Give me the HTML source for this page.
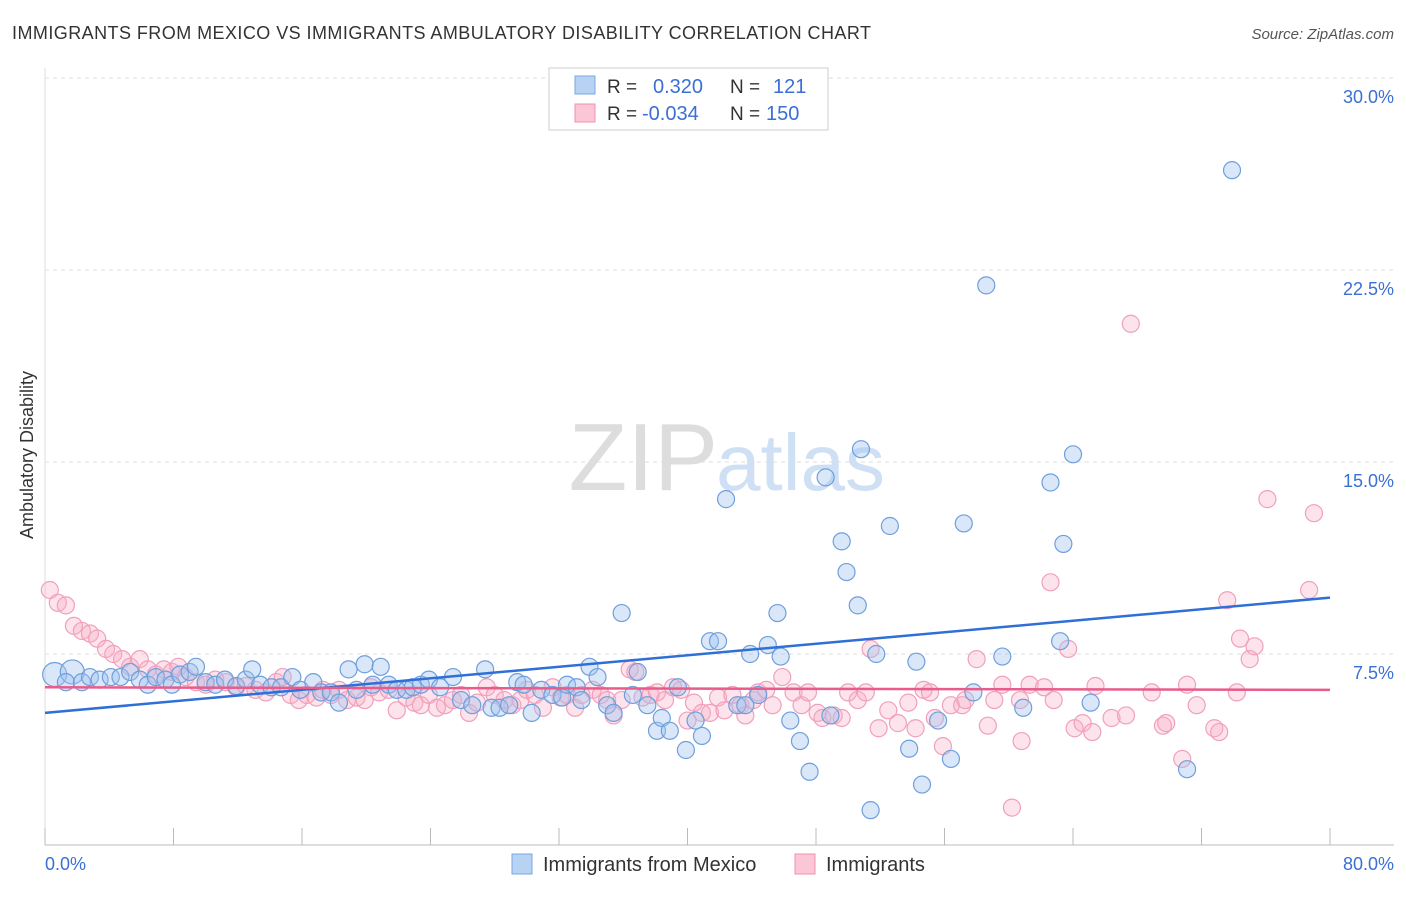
<!DOCTYPE html>
<html><head><meta charset="utf-8"><style>
body{margin:0;background:#fff;font-family:"Liberation Sans",sans-serif;}
svg text{font-family:"Liberation Sans",sans-serif;}
</style></head><body>
<svg width="1406" height="892" viewBox="0 0 1406 892">
<text x="12" y="39" font-size="18" fill="#333" textLength="859" lengthAdjust="spacing">IMMIGRANTS FROM MEXICO VS IMMIGRANTS AMBULATORY DISABILITY CORRELATION CHART</text>
<text x="1394" y="39" font-size="15" fill="#555" font-style="italic" text-anchor="end">Source: ZipAtlas.com</text>
<text x="33" y="455" font-size="18" fill="#333" transform="rotate(-90 33 455)" text-anchor="middle">Ambulatory Disability</text>
<g id="grid"></g>
<text x="718" y="490" font-size="96" fill="#ddd" text-anchor="end" font-family="Liberation Serif">ZIP</text>
<text x="716" y="490" font-size="80" fill="#cfe0f5">atlas</text>
<g id="pts"></g>
<g id="trend"></g>
<g>
<rect x="549" y="68" width="279" height="62" fill="#fff" stroke="#ccc"/>
<rect x="575" y="76" width="20" height="18" fill="#b8d2f4" stroke="#7aa8e0"/>
<rect x="575" y="104" width="20" height="18" fill="#fbc6d6" stroke="#f090b0"/>
<text x="607" y="93" font-size="19" fill="#333">R =</text>
<text x="653" y="93" font-size="20" fill="#3b6fd4">0.320</text>
<text x="730" y="93" font-size="19" fill="#333">N =</text>
<text x="773" y="93" font-size="20" fill="#3b6fd4">121</text>
<text x="607" y="120" font-size="19" fill="#333">R =</text>
<text x="642" y="120" font-size="20" fill="#3b6fd4">-0.034</text>
<text x="730" y="120" font-size="19" fill="#333">N =</text>
<text x="766" y="120" font-size="20" fill="#3b6fd4">150</text>
</g>
<g>
<rect x="512" y="854" width="20" height="20" fill="#b8d2f4" stroke="#7aa8e0"/>
<text x="543" y="871" font-size="20" fill="#333">Immigrants from Mexico</text>
<rect x="795" y="854" width="20" height="20" fill="#fbc6d6" stroke="#f090b0"/>
<text x="826" y="871" font-size="20" fill="#333">Immigrants</text>
</g>
</svg>
<script>
const xTickLabels=["0.0%","80.0%"];
const yTicks=[7.5,15,22.5,30];
const yTickLabels=["7.5%","15.0%","22.5%","30.0%"];
const blueX=[0.6,1.7,1.3,2.3,2.8,3.4,4.1,4.7,5.3,5.9,6.4,6.9,7.5,7.9,8.4,9.0,9.4,10.0,10.6,11.2,11.9,12.5,12.9,13.4,14.1,14.7,15.4,15.9,16.7,17.2,17.8,18.3,18.9,19.4,19.9,20.4,20.9,21.4,21.9,22.5,22.9,23.4,23.9,24.6,25.4,25.9,26.6,27.4,27.8,28.3,28.9,29.4,29.8,30.3,30.9,31.6,32.2,32.5,33.1,33.4,33.9,34.4,35.0,35.4,35.9,36.6,36.9,37.5,38.1,38.4,38.9,39.4,39.9,40.5,40.9,41.4,41.9,42.4,43.1,43.6,43.9,44.4,45.0,45.6,45.8,46.4,47.0,47.6,48.6,48.9,49.6,49.9,50.6,50.8,51.4,51.75,52.6,53.8,54.25,54.6,55.6,56.4,57.2,57.8,58.6,59.6,60.9,62.6,63.2,63.4,64.0,65.1,71.1,73.9];
const blueY=[6.7,6.8,6.4,6.4,6.6,6.5,6.6,6.6,6.8,6.5,6.3,6.6,6.5,6.3,6.7,6.8,7.0,6.4,6.3,6.5,6.25,6.5,6.9,6.3,6.2,6.2,6.6,6.1,6.4,6.0,6.0,5.6,6.9,6.1,7.1,6.3,7.0,6.3,6.1,6.1,6.2,6.3,6.5,6.2,6.6,5.7,5.5,6.9,5.4,5.4,5.5,6.4,6.3,5.2,6.1,5.9,5.8,6.3,6.2,5.7,7.0,6.6,5.5,5.2,9.1,5.9,6.8,5.5,4.5,5.0,4.5,6.2,3.75,4.9,4.3,8.0,8.0,13.55,5.5,5.5,7.5,5.9,7.85,9.1,7.4,4.9,4.1,2.9,14.4,5.1,11.9,10.7,9.4,15.5,1.4,7.5,12.5,3.8,7.2,2.4,4.9,3.4,12.6,6.0,21.9,7.4,5.4,14.2,8.0,11.8,15.3,5.6,3.0,26.4];
const pinkX=[0.3,0.8,1.3,1.8,2.3,2.8,3.25,3.8,4.25,4.8,5.3,5.9,6.4,6.9,7.4,7.9,8.3,8.75,9.4,10.0,10.6,11.25,11.9,12.5,13.1,13.75,14.4,14.8,15.3,15.8,16.3,16.9,17.3,17.8,18.3,18.8,19.4,19.9,20.3,20.8,21.4,21.9,22.5,23.0,23.4,23.9,24.4,24.9,25.4,25.9,26.4,26.9,27.5,28.0,28.6,29.1,29.6,30.0,30.5,31.0,31.6,32.1,32.5,33.0,33.4,34.1,34.6,35.0,35.4,35.9,36.4,36.75,37.2,37.7,38.1,38.6,39.1,39.6,40.0,40.4,40.9,41.4,41.9,42.3,42.8,43.3,43.6,44.1,44.4,44.9,45.3,45.9,46.6,47.1,47.5,48.1,48.4,49.1,49.6,50.0,50.6,51.1,51.4,51.9,52.5,53.1,53.75,54.2,54.7,55.1,55.4,55.9,56.4,57.1,57.3,58.0,58.7,59.1,59.6,60.2,60.7,60.8,61.3,62.2,62.6,62.8,63.7,64.1,64.6,65.2,65.4,66.4,67.3,67.6,68.9,69.6,69.8,70.8,71.1,71.7,72.8,73.1,73.6,74.2,74.4,75.0,75.3,76.1,78.7,79.0];
const pinkY=[10.0,9.5,9.4,8.6,8.4,8.3,8.1,7.7,7.5,7.3,7.0,7.3,6.9,6.7,6.9,6.8,7.0,6.6,6.4,6.3,6.5,6.4,6.2,6.25,6.1,6.0,6.4,6.6,5.9,5.7,5.9,5.8,6.1,5.9,6.1,5.7,5.8,5.7,6.2,6.0,6.1,5.3,5.8,5.6,5.5,5.9,5.4,5.5,5.7,5.9,5.2,5.6,6.2,5.9,5.7,5.5,5.7,6.1,5.9,5.4,6.2,5.8,5.9,5.4,5.9,6.1,5.9,5.7,5.1,5.7,6.9,6.8,5.8,5.9,6.0,5.7,6.2,6.1,4.9,5.6,5.2,5.2,5.8,5.3,5.9,5.5,5.1,5.7,6.0,6.1,5.5,6.6,6.0,5.5,6.0,5.2,5.0,5.1,5.0,6.0,5.7,6.0,7.7,4.6,5.3,4.8,5.6,4.6,6.1,6.0,5.0,3.9,5.5,5.5,5.7,7.3,4.7,5.7,6.3,1.5,5.7,4.1,6.3,6.2,10.3,5.7,7.7,4.6,4.8,4.45,6.25,5.0,5.1,20.4,6.0,4.7,4.8,3.4,6.3,5.5,4.6,4.45,9.6,6.0,8.1,7.3,7.8,13.55,10.0,13.0];
const blueTrend=[5.2,9.7];
const pinkTrend=[6.2,6.1];
const NS="http://www.w3.org/2000/svg";
const X0=45,X1=1330,Y0=846;
function sx(v){return X0+v*(X1-X0)/80;}
function sy(v){return Y0-v*25.6;}
function mk(tag,attrs,parent){const e=document.createElementNS(NS,tag);for(const k in attrs)e.setAttribute(k,attrs[k]);parent.appendChild(e);return e;}
const grid=document.getElementById('grid');
yTicks.forEach((t,i)=>{
  const l=mk('line',{x1:45,x2:1394,y1:sy(t),y2:sy(t),stroke:'#ddd','stroke-dasharray':'4,4'},grid);
  
  
  const tx=mk('text',{x:1394,y:sy(t)+25,'font-size':18,fill:'#3b6fd4','text-anchor':'end'},grid);
  tx.textContent=yTickLabels[i];
  
  
});
const ax=mk('line',{x1:45,x2:1394,y1:845,y2:845,stroke:'#bbb'},grid);


const ay=mk('line',{x1:45,x2:45,y1:68,y2:845,stroke:'#ddd'},grid);


for(let i=0;i<=10;i++){
  const t=mk('line',{x1:sx(i*8),x2:sx(i*8),y1:828,y2:845,stroke:'#bbb'},grid);
  
  
}
[[0,'start',45],[80,'end',1394]].forEach((d,i)=>{
  const tx=mk('text',{x:d[2],y:870,'font-size':18,fill:'#3b6fd4','text-anchor':d[1]},grid);
  tx.textContent=xTickLabels[i];
  
  
});
const pts=document.getElementById('pts');
pinkX.forEach((x,i)=>{
  const c=mk('circle',{cx:sx(x),cy:sy(pinkY[i]),r:8.5,fill:'rgba(248,175,198,0.35)',stroke:'#f0a0bc','stroke-width':1.2},pts);
  
  
});
blueX.forEach((x,i)=>{
  const c=mk('circle',{cx:sx(x),cy:sy(blueY[i]),r:i<2?12:8.5,fill:'rgba(160,196,240,0.4)',stroke:'#6f9fdc','stroke-width':1.2},pts);
  
  
});
const tr=document.getElementById('trend');
const bl=mk('line',{x1:sx(0),y1:sy(blueTrend[0]),x2:sx(80),y2:sy(blueTrend[1]),stroke:'#2f6fd6','stroke-width':2.5},tr);


const pl=mk('line',{x1:sx(0),y1:sy(pinkTrend[0]),x2:sx(80),y2:sy(pinkTrend[1]),stroke:'#e85c8c','stroke-width':2.5},tr);


</script>
</body></html>
